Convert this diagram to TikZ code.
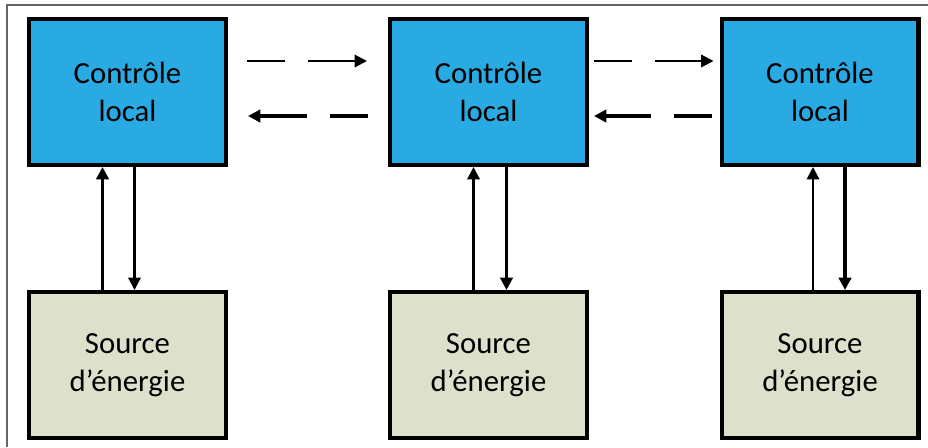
\documentclass[tikz,border=0pt]{standalone}
\usepackage{fontspec}
\setmainfont{Carlito}
\usetikzlibrary{calc}
\usetikzlibrary{arrows.meta}
\definecolor{ctrlblue}{RGB}{41,170,226}
\definecolor{srcgreen}{RGB}{221,224,203}
\tikzset{
every picture/.style={x=0.02cm, y=-0.02cm, >={Triangle[length=7pt,width=7pt]}},
%%%%%%%%%%  Node styles
controle/.style={draw, line width=2.3pt, fill=ctrlblue, minimum width=3.94cm,
                 minimum height=2.92cm, align=center, inner sep=0pt,
                 font=\fontsize{17.5}{22}\selectfont},
source/.style={controle, fill=srcgreen},
%%%% different line styles:
thinlink/.style={line width=1.2pt},
thicklink/.style={line width=1.9pt},
message/.style={dash pattern=on 0.76cm off 0.46cm on 2cm},
frame/.style={line width=0.9pt, draw=black!60}
}
\begin{document}
\begin{tikzpicture}
\useasboundingbox (0,0) rectangle (928,447);
\draw[frame] (7,447) -- (7,5) -- (928,5);
%%%%%%% boxes
\node[controle] (ctrlA) at (127.5,92) {Contrôle\\local};
\node[controle] (ctrlB) at (488.5,92) {Contrôle\\local};
\node[controle] (ctrlC) at (820,92) {Contrôle\\local};
\node[source] (srcA) at (127.5,365) {Source\\d’énergie};
\node[source] (srcB) at (488.5,365) {Source\\d’énergie};
\node[source] (srcC) at (820,365) {Source\\d’énergie};
%%%%%%% vertical links
\draw[thicklink,->] ($(srcA.north)+(-25,0)$) -- ($(ctrlA.south)+(-25,0)$);
\draw[thinlink,->] ($(ctrlA.south)+(7,0)$) -- ($(srcA.north)+(7,0)$);
\draw[thinlink,->] ($(srcB.north)+(-15,0)$) -- ($(ctrlB.south)+(-15,0)$);
\draw[thicklink,->] ($(ctrlB.south)+(18,0)$) -- ($(srcB.north)+(18,0)$);
\draw[thinlink,->] ($(srcC.north)+(-7,0)$) -- ($(ctrlC.south)+(-7,0)$);
\draw[thicklink,->] ($(ctrlC.south)+(25,0)$) -- ($(srcC.north)+(25,0)$);
%%%%%%% dashed messages
\draw[thinlink,message,->] ($(ctrlA.east)+(19,-31)$) -- ($(ctrlB.west)+(-21,-31)$);
\draw[thicklink,message,->] ($(ctrlB.west)+(-20,24)$) -- ($(ctrlA.east)+(20,24)$);
\draw[thinlink,message,->] ($(ctrlB.east)+(5,-31)$) -- ($(ctrlC.west)+(-6,-31)$);
\draw[thicklink,message,->] ($(ctrlC.west)+(-8,24)$) -- ($(ctrlB.east)+(5,24)$);
\end{tikzpicture}
\end{document}
